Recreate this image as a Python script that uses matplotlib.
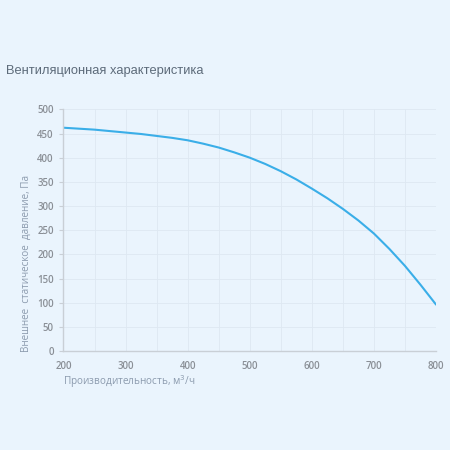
import numpy as np
import matplotlib
matplotlib.use('Agg')
import matplotlib.pyplot as plt
from matplotlib.ticker import MultipleLocator

# values
flow = np.array([200, 225, 250, 275, 300, 325, 350, 375, 400, 425, 450, 475, 500,
                 525, 550, 575, 600, 625, 650, 675, 700, 725, 750, 775, 800])
pressure = np.array([462, 460, 458, 455, 452, 449, 445, 441, 436, 429, 421, 411, 400,
                     387, 372, 355, 336, 316, 294, 270, 243, 211, 176, 137, 96])

TITLE = 'Вентиляционная характеристика'
XLABEL = 'Производительность, м$^3$/ч'
YLABEL = 'Внешнее  статическое  давление, Па'

bg = '#eaf4fd'
tick_col = '#8a8f96'
label_col = '#8c9bae'

plt.rcParams['font.family'] = ['Open Sans', 'DejaVu Sans']

fig = plt.figure(figsize=(4.5, 4.5), dpi=100, facecolor=bg)
ax = fig.add_axes([0.141, 0.22, 0.828, 0.537])
ax.set_facecolor(bg)

ax.plot(flow, pressure, color='#3aaee8', lw=1.5, solid_capstyle='round',
        solid_joinstyle='round')

ax.set_xlim(200, 800)
ax.set_ylim(0, 500)
ax.xaxis.set_major_locator(MultipleLocator(100))
ax.xaxis.set_minor_locator(MultipleLocator(50))
ax.yaxis.set_major_locator(MultipleLocator(50))
ax.grid(which='both', color='#dde8f2', lw=0.6)
ax.set_axisbelow(True)

for s in ['top', 'right']:
    ax.spines[s].set_visible(False)
for s in ['left', 'bottom']:
    ax.spines[s].set_color('#c9cfd6')
    ax.spines[s].set_linewidth(1.0)

ax.tick_params(axis='y', length=3, width=0.8, color='#c9cfd6', labelsize=7,
               labelcolor=tick_col, pad=4)
ax.tick_params(axis='x', which='both', length=0, labelsize=7,
               labelcolor=tick_col, pad=7)
for lab in ax.get_xticklabels() + ax.get_yticklabels():
    lab.set_fontweight('semibold')

fig.text(0.013, 0.843, TITLE, fontsize=9.3, color='#5d6b7a', ha='left', va='center',
         family=['Liberation Sans', 'DejaVu Sans'])
fig.text(0.14, 0.153, XLABEL, fontsize=7.2, color=label_col, ha='left', va='center')
fig.text(0.058, 0.414, YLABEL, fontsize=7.1, color=label_col, ha='center', va='center',
         rotation=90)

fig.savefig('out.png', dpi=100, facecolor=bg)
